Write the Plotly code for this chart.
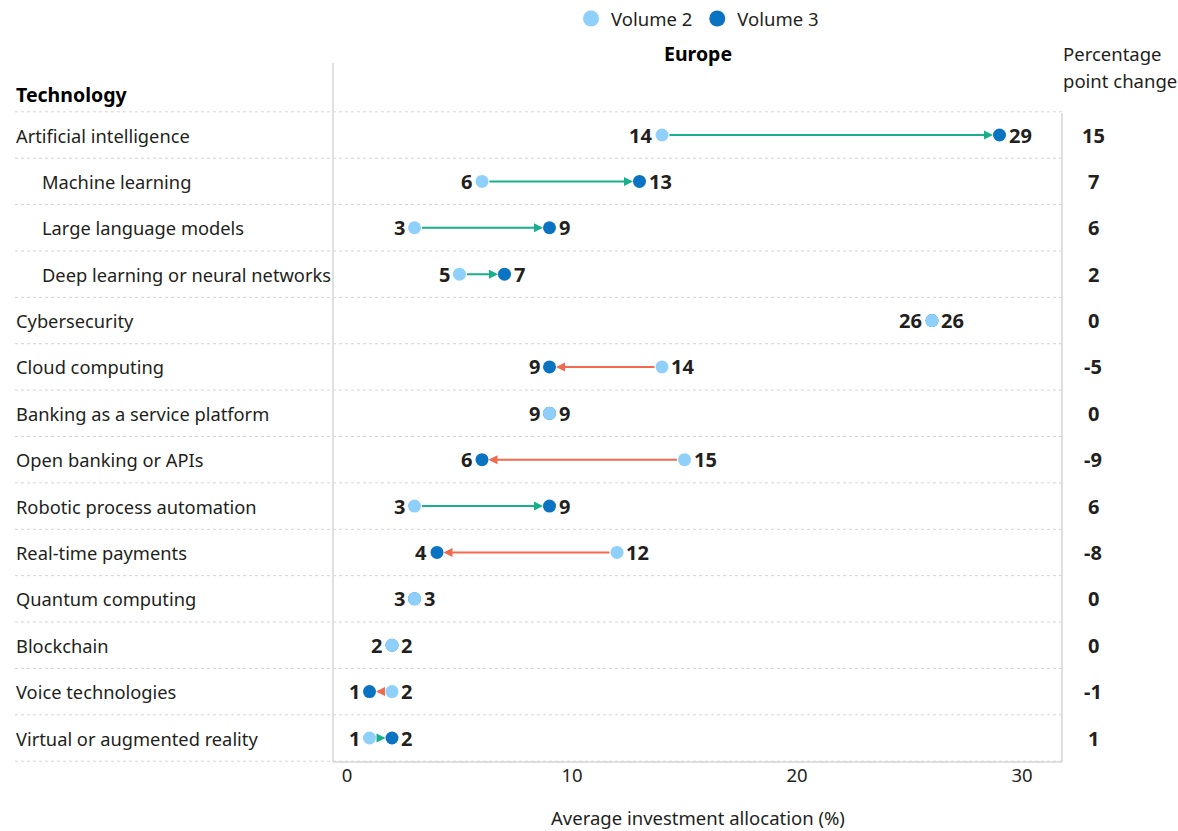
import plotly.graph_objects as go

categories = ["Artificial intelligence", "Machine learning", "Large language models",
              "Deep learning or neural networks", "Cybersecurity", "Cloud computing",
              "Banking as a service platform", "Open banking or APIs",
              "Robotic process automation", "Real-time payments", "Quantum computing",
              "Blockchain", "Voice technologies", "Virtual or augmented reality"]
indented = [False, True, True, True, False, False, False, False, False, False, False, False, False, False]
volume2 = [14, 6, 3, 5, 26, 14, 9, 15, 3, 12, 3, 2, 2, 1]
volume3 = [29, 13, 9, 7, 26, 9, 9, 6, 9, 4, 3, 2, 1, 2]
change = [15, 7, 6, 2, 0, -5, 0, -9, 6, -8, 0, 0, -1, 1]

W, H = 1178, 831
L, R, T, B = 333, 116, 63, 69
PW, PH = W - L - R, H - T - B
FONT = "Noto Sans"
DARK = "#231f20"
C2, C3 = "#8fd0fb", "#0a73c2"
UP, DOWN = "#17b08a", "#f06a50"

def px(x):
    return (x - L) / PW

def py(y):
    return (H - B - y) / PH

ys = list(range(len(categories)))
fig = go.Figure()

fig.add_trace(go.Scatter(x=volume3, y=ys, mode="markers", name="Volume 3",
                         marker=dict(size=13, color=C3), showlegend=False,
                         cliponaxis=False, hoverinfo="skip"))
fig.add_trace(go.Scatter(x=volume2, y=ys, mode="markers", name="Volume 2",
                         marker=dict(size=13, color=C2), showlegend=False,
                         cliponaxis=False, hoverinfo="skip"))
fig.add_trace(go.Scatter(x=[None], y=[None], mode="markers", name="Volume 2",
                         marker=dict(size=20, color=C2), legendrank=1))
fig.add_trace(go.Scatter(x=[None], y=[None], mode="markers", name="Volume 3",
                         marker=dict(size=20, color=C3), legendrank=2))

lblfont = dict(family=FONT, size=20, color=DARK, weight="bold")
ann = []
shapes = []
for i, (a, b) in enumerate(zip(volume2, volume3)):
    if a != b:
        col = UP if b > a else DOWN
        ann.append(dict(x=b, y=i, ax=a, ay=i, xref="x", yref="y", axref="x", ayref="y",
                        text="", showarrow=True, arrowhead=2, arrowsize=0.9, arrowwidth=2,
                        arrowcolor=col, standoff=6.5, startstandoff=6))
    lo, hi = min(a, b), max(a, b)
    ann.append(dict(x=lo, y=i, xref="x", yref="y", text=str(lo), showarrow=False,
                    xanchor="right", yanchor="middle", xshift=-8, font=lblfont))
    ann.append(dict(x=hi, y=i, xref="x", yref="y", text=str(hi), showarrow=False,
                    xanchor="left", yanchor="middle", xshift=7, font=lblfont))
    ann.append(dict(x=px(40 if indented[i] else 14), y=i, xref="paper", yref="y",
                    text=categories[i], showarrow=False, xanchor="left", yanchor="middle",
                    font=dict(family=FONT, size=18.3, color=DARK)))
    ann.append(dict(x=px(1093), y=i, xref="paper", yref="y", text=str(change[i]),
                    showarrow=False, xanchor="center", yanchor="middle",
                    font=dict(family=FONT, size=20, color=DARK, weight="bold")))

for k in range(-1, len(categories)):
    shapes.append(dict(type="line", xref="paper", yref="y", x0=px(15), x1=1,
                       y0=k + 0.5, y1=k + 0.5,
                       line=dict(color="#d4d4d4", width=1, dash="3px,3px")))

shapes.append(dict(type="line", xref="paper", yref="paper", x0=0, x1=0, y0=0, y1=1,
                   line=dict(color="#d6d6d6", width=1.5)))
shapes.append(dict(type="line", xref="paper", yref="paper", x0=1, x1=1, y0=0, y1=py(113),
                   line=dict(color="#d6d6d6", width=1.5)))
shapes.append(dict(type="line", xref="paper", yref="paper", x0=0, x1=1, y0=0, y1=0,
                   line=dict(color="#d6d6d6", width=1.5)))

ann.append(dict(x=px(14), y=py(94), xref="paper", yref="paper", text="<b>Technology</b>",
                showarrow=False, xanchor="left", yanchor="middle",
                font=dict(family=FONT, size=19.5, color="#000000")))
ann.append(dict(x=0.5, y=py(54), xref="paper", yref="paper", text="<b>Europe</b>",
                showarrow=False, xanchor="center", yanchor="middle",
                font=dict(family=FONT, size=19.5, color="#000000")))
ann.append(dict(x=px(1061), y=py(54), xref="paper", yref="paper", text="Percentage",
                showarrow=False, xanchor="left", yanchor="middle",
                font=dict(family=FONT, size=18.5, color=DARK)))
ann.append(dict(x=px(1061), y=py(81), xref="paper", yref="paper", text="point change",
                showarrow=False, xanchor="left", yanchor="middle",
                font=dict(family=FONT, size=18.5, color=DARK)))
ann.append(dict(x=0.5, y=py(818), xref="paper", yref="paper",
                text="Average investment allocation (%)",
                showarrow=False, xanchor="center", yanchor="middle",
                font=dict(family=FONT, size=18.5, color=DARK)))

x0px = 347
unit = 22.5
fig.update_layout(
    width=W, height=H,
    margin=dict(l=L, r=R, t=T, b=B, autoexpand=False),
    plot_bgcolor="white", paper_bgcolor="white",
    font=dict(family=FONT, size=18, color=DARK),
    xaxis=dict(range=[(L - x0px) / unit, (L + PW - x0px) / unit], tickvals=[0, 10, 20, 30],
               showgrid=False, zeroline=False, showline=False, ticks="",
               tickfont=dict(family=FONT, size=18.5, color=DARK)),
    yaxis=dict(range=[13 + (762 - 738) / 46.38, -(135 - 63) / 46.38], showgrid=False,
               zeroline=False, showline=False, showticklabels=False, ticks=""),
    showlegend=True,
    legend=dict(orientation="h", x=0.5, xanchor="center", y=py(19), yanchor="middle",
                font=dict(family=FONT, size=18.5, color=DARK), itemsizing="trace",
                traceorder="normal"),
    annotations=ann, shapes=shapes,
)

fig.write_html("out.html")
